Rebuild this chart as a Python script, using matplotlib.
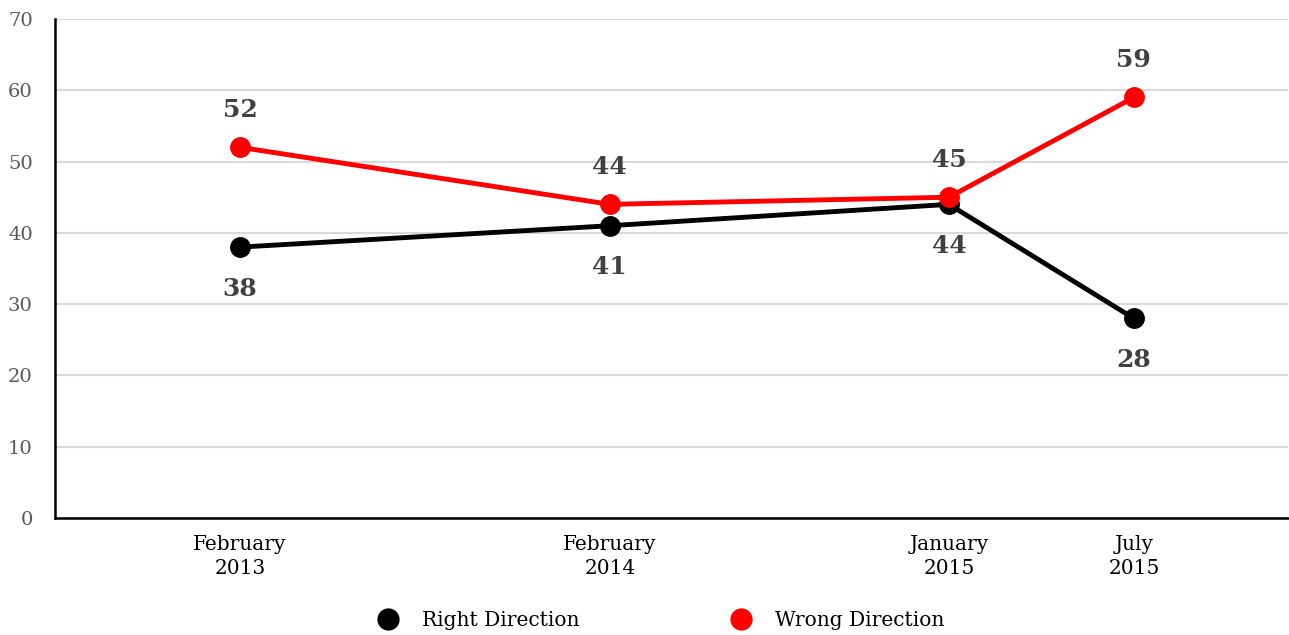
import matplotlib.pyplot as plt
from matplotlib.lines import Line2D

# months counted from January 2013
months = [1, 13, 24, 30]
month_labels = ["February\n2013", "February\n2014", "January\n2015", "July\n2015"]
right_direction = [38, 41, 44, 28]
wrong_direction = [52, 44, 45, 59]

plt.rcParams["font.family"] = ["DejaVu Serif"]

fig = plt.figure(figsize=(12.89, 6.35), dpi=100)
ax = fig.add_axes([55 / 1289, 117 / 635, 1233 / 1289, 499 / 635])

ax.plot(months, right_direction, color="black", lw=3.5, marker="o", ms=14,
        label="Right Direction", zorder=3)
ax.plot(months, wrong_direction, color="#ff0000", lw=3.5, marker="o", ms=14,
        label="Wrong Direction", zorder=4)

for x, v in zip(months, right_direction):
    ax.annotate(str(v), (x, v), xytext=(0, -30), textcoords="offset points",
                ha="center", va="center", fontsize=18, fontweight="bold",
                color="#404040")
for x, v in zip(months, wrong_direction):
    ax.annotate(str(v), (x, v), xytext=(0, 27), textcoords="offset points",
                ha="center", va="center", fontsize=18, fontweight="bold",
                color="#404040")

ax.set_xlim(-5, 35)
ax.set_ylim(0, 70)
ax.set_yticks(range(0, 71, 10))
ax.set_xticks(months)
ax.set_xticklabels(month_labels, fontsize=14.5, linespacing=1.35)
ax.tick_params(axis="y", length=0, pad=16, labelsize=14, labelcolor="#595959")
ax.tick_params(axis="x", length=0, pad=12)

ax.grid(axis="y", color="#d9d9d9", lw=1.5)
ax.set_axisbelow(True)
for side in ("top", "right"):
    ax.spines[side].set_visible(False)
for side in ("left", "bottom"):
    ax.spines[side].set_linewidth(1.8)
    ax.spines[side].set_color("black")
    ax.spines[side].set_zorder(5)

handles, labels = ax.get_legend_handles_labels()
handles = [Line2D([], [], ls="none", marker="o", ms=15, color=h.get_color())
           for h in handles]
fig.legend(handles, labels, loc="center", bbox_to_anchor=(660 / 1289, 14 / 635),
           ncol=2, frameon=False, fontsize=14.5, columnspacing=7.4,
           handletextpad=1.1, handlelength=1.2)

fig.savefig("out.png", dpi=100)
